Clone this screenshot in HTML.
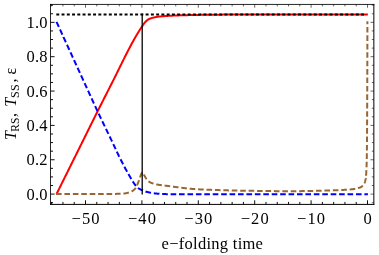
<!DOCTYPE html>
<html><head><meta charset="utf-8">
<style>
html,body{margin:0;padding:0;background:#fff;}
svg{display:block;will-change:transform;}
text{font-family:"Liberation Serif",serif;font-size:16px;fill:#000;}
</style></head><body>
<svg width="379" height="255" viewBox="0 0 379 255">
<rect width="379" height="255" fill="#fff"/>
<g fill="none" stroke-linejoin="round">
<path d="M56.50,194.10 L56.76,193.58 L57.02,193.05 L57.28,192.53 L57.54,192.01 L57.80,191.48 L58.06,190.96 L58.32,190.44 L58.58,189.91 L58.84,189.39 L59.10,188.87 L59.36,188.34 L59.62,187.82 L59.88,187.30 L60.14,186.77 L60.40,186.25 L60.66,185.73 L60.92,185.20 L61.17,184.68 L61.43,184.15 L61.69,183.63 L61.95,183.11 L62.21,182.58 L62.47,182.06 L62.73,181.54 L62.99,181.01 L63.25,180.49 L63.51,179.97 L63.77,179.44 L64.03,178.92 L64.29,178.40 L64.55,177.87 L64.81,177.35 L65.07,176.83 L65.33,176.30 L65.59,175.78 L65.85,175.26 L66.11,174.73 L66.37,174.21 L66.63,173.69 L66.89,173.16 L67.15,172.64 L67.41,172.12 L67.67,171.59 L67.93,171.07 L68.19,170.55 L68.45,170.02 L68.71,169.50 L68.97,168.98 L69.23,168.45 L69.49,167.93 L69.75,167.41 L70.01,166.88 L70.26,166.36 L70.52,165.84 L70.78,165.31 L71.04,164.79 L71.30,164.27 L71.56,163.74 L71.82,163.22 L72.08,162.70 L72.34,162.17 L72.60,161.65 L72.86,161.13 L73.12,160.61 L73.38,160.08 L73.64,159.56 L73.90,159.04 L74.16,158.51 L74.42,157.99 L74.68,157.47 L74.94,156.94 L75.20,156.42 L75.46,155.90 L75.72,155.37 L75.98,154.85 L76.24,154.33 L76.50,153.80 L76.76,153.28 L77.02,152.76 L77.28,152.23 L77.54,151.71 L77.80,151.19 L78.06,150.66 L78.32,150.14 L78.58,149.62 L78.84,149.09 L79.10,148.57 L79.36,148.05 L79.61,147.52 L79.87,147.00 L80.13,146.48 L80.39,145.95 L80.65,145.43 L80.91,144.91 L81.17,144.38 L81.43,143.86 L81.69,143.34 L81.95,142.82 L82.21,142.29 L82.47,141.77 L82.73,141.25 L82.99,140.72 L83.25,140.20 L83.51,139.68 L83.77,139.15 L84.03,138.63 L84.29,138.11 L84.55,137.58 L84.81,137.06 L85.07,136.53 L85.33,136.01 L85.59,135.48 L85.85,134.96 L86.11,134.44 L86.37,133.91 L86.63,133.39 L86.89,132.86 L87.15,132.34 L87.41,131.81 L87.67,131.29 L87.93,130.76 L88.19,130.24 L88.45,129.71 L88.70,129.19 L88.96,128.66 L89.22,128.14 L89.48,127.62 L89.74,127.09 L90.00,126.57 L90.26,126.04 L90.52,125.52 L90.78,124.99 L91.04,124.47 L91.30,123.95 L91.56,123.42 L91.82,122.90 L92.08,122.37 L92.34,121.85 L92.60,121.33 L92.86,120.80 L93.12,120.28 L93.38,119.76 L93.64,119.24 L93.90,118.71 L94.16,118.19 L94.42,117.67 L94.68,117.15 L94.94,116.63 L95.20,116.11 L95.46,115.59 L95.72,115.06 L95.98,114.54 L96.24,114.02 L96.50,113.50 L96.76,112.99 L97.02,112.47 L97.28,111.95 L97.54,111.43 L97.79,110.91 L98.05,110.39 L98.31,109.88 L98.57,109.36 L98.83,108.84 L99.09,108.33 L99.35,107.81 L99.61,107.30 L99.87,106.78 L100.13,106.27 L100.39,105.75 L100.65,105.24 L100.91,104.72 L101.17,104.21 L101.43,103.70 L101.69,103.18 L101.95,102.67 L102.21,102.16 L102.47,101.64 L102.73,101.13 L102.99,100.62 L103.25,100.11 L103.51,99.59 L103.77,99.08 L104.03,98.57 L104.29,98.06 L104.55,97.55 L104.81,97.03 L105.07,96.52 L105.33,96.01 L105.59,95.50 L105.85,94.99 L106.11,94.48 L106.37,93.97 L106.63,93.46 L106.88,92.94 L107.14,92.43 L107.40,91.92 L107.66,91.41 L107.92,90.90 L108.18,90.39 L108.44,89.88 L108.70,89.37 L108.96,88.85 L109.22,88.34 L109.48,87.83 L109.74,87.32 L110.00,86.81 L110.26,86.30 L110.52,85.78 L110.78,85.27 L111.04,84.76 L111.30,84.25 L111.56,83.73 L111.82,83.22 L112.08,82.71 L112.34,82.19 L112.60,81.68 L112.86,81.17 L113.12,80.65 L113.38,80.14 L113.64,79.62 L113.90,79.11 L114.16,78.59 L114.42,78.08 L114.68,77.56 L114.94,77.04 L115.20,76.52 L115.46,76.00 L115.72,75.48 L115.98,74.95 L116.23,74.43 L116.49,73.91 L116.75,73.38 L117.01,72.86 L117.27,72.33 L117.53,71.80 L117.79,71.28 L118.05,70.75 L118.31,70.22 L118.57,69.70 L118.83,69.17 L119.09,68.64 L119.35,68.11 L119.61,67.58 L119.87,67.06 L120.13,66.53 L120.39,66.00 L120.65,65.47 L120.91,64.94 L121.17,64.42 L121.43,63.89 L121.69,63.36 L121.95,62.83 L122.21,62.31 L122.47,61.78 L122.73,61.26 L122.99,60.73 L123.25,60.21 L123.51,59.68 L123.77,59.16 L124.03,58.64 L124.29,58.12 L124.55,57.59 L124.81,57.07 L125.07,56.56 L125.32,56.04 L125.58,55.52 L125.84,55.00 L126.10,54.49 L126.36,53.98 L126.62,53.46 L126.88,52.95 L127.14,52.44 L127.40,51.93 L127.66,51.43 L127.92,50.92 L128.18,50.42 L128.44,49.92 L128.70,49.41 L128.96,48.91 L129.22,48.42 L129.48,47.92 L129.74,47.43 L130.00,46.94 L130.26,46.44 L130.52,45.96 L130.78,45.47 L131.04,44.99 L131.30,44.50 L131.56,44.02 L131.82,43.54 L132.08,43.07 L132.34,42.59 L132.60,42.12 L132.86,41.65 L133.12,41.18 L133.38,40.71 L133.64,40.25 L133.90,39.78 L134.16,39.32 L134.41,38.86 L134.67,38.41 L134.93,37.95 L135.19,37.50 L135.45,37.05 L135.71,36.61 L135.97,36.16 L136.23,35.72 L136.49,35.28 L136.75,34.85 L137.01,34.41 L137.27,33.98 L137.53,33.55 L137.79,33.13 L138.05,32.70 L138.31,32.28 L138.57,31.86 L138.83,31.44 L139.09,31.03 L139.35,30.62 L139.61,30.21 L139.87,29.80 L140.13,29.39 L140.39,28.99 L140.65,28.59 L140.91,28.19 L141.17,27.80 L141.43,27.40 L141.69,27.01 L141.95,26.63 L142.21,26.24 L142.47,25.85 L142.73,25.46 L142.99,25.07 L143.25,24.68 L143.51,24.30 L143.76,23.93 L144.02,23.57 L144.28,23.23 L144.54,22.90 L144.80,22.60 L145.06,22.30 L145.32,22.01 L145.58,21.73 L145.84,21.45 L146.10,21.18 L146.36,20.92 L146.62,20.67 L146.88,20.43 L147.14,20.21 L147.40,20.00 L147.66,19.81 L147.92,19.65 L148.18,19.50 L148.44,19.36 L148.70,19.22 L148.96,19.09 L149.22,18.97 L149.48,18.85 L149.74,18.74 L150.00,18.64 L150.26,18.54 L150.52,18.44 L150.78,18.35 L151.04,18.26 L151.30,18.18 L151.56,18.10 L151.82,18.02 L152.08,17.95 L152.34,17.88 L152.60,17.81 L152.85,17.74 L153.11,17.67 L153.37,17.61 L153.63,17.55 L153.89,17.48 L154.15,17.42 L154.41,17.36 L154.67,17.31 L154.93,17.25 L155.19,17.20 L155.45,17.14 L155.71,17.09 L155.97,17.05 L156.23,17.00 L156.49,16.95 L156.75,16.91 L157.01,16.87 L157.27,16.83 L157.53,16.79 L157.79,16.75 L158.05,16.72 L158.31,16.69 L158.57,16.65 L158.83,16.62 L159.09,16.59 L159.35,16.57 L159.61,16.54 L159.87,16.51 L160.13,16.48 L160.39,16.46 L160.65,16.43 L160.91,16.41 L161.17,16.38 L161.43,16.36 L161.69,16.34 L161.94,16.31 L162.20,16.29 L162.46,16.27 L162.72,16.25 L162.98,16.23 L163.24,16.21 L163.50,16.19 L163.76,16.17 L164.02,16.15 L164.28,16.13 L164.54,16.11 L164.80,16.09 L165.06,16.08 L165.32,16.06 L165.58,16.04 L165.84,16.02 L166.10,16.01 L166.36,15.99 L166.62,15.97 L166.88,15.96 L167.14,15.94 L167.40,15.92 L167.66,15.91 L167.92,15.89 L168.18,15.87 L168.44,15.86 L168.70,15.84 L168.96,15.83 L169.22,15.81 L169.48,15.80 L169.74,15.78 L170.00,15.77 L170.26,15.76 L170.52,15.74 L170.78,15.73 L171.03,15.71 L171.29,15.70 L171.55,15.69 L171.81,15.67 L172.07,15.66 L172.33,15.65 L172.59,15.64 L172.85,15.62 L173.11,15.61 L173.37,15.60 L173.63,15.59 L173.89,15.58 L174.15,15.56 L174.41,15.55 L174.67,15.54 L174.93,15.53 L175.19,15.52 L175.45,15.51 L175.71,15.50 L175.97,15.49 L176.23,15.48 L176.49,15.47 L176.75,15.46 L177.01,15.45 L177.27,15.44 L177.53,15.43 L177.79,15.42 L178.05,15.41 L178.31,15.40 L178.57,15.39 L178.83,15.38 L179.09,15.37 L179.35,15.37 L179.61,15.36 L179.87,15.35 L180.13,15.34 L180.38,15.33 L180.64,15.32 L180.90,15.32 L181.16,15.31 L181.42,15.30 L181.68,15.29 L181.94,15.28 L182.20,15.28 L182.46,15.27 L182.72,15.26 L182.98,15.25 L183.24,15.25 L183.50,15.24 L183.76,15.23 L184.02,15.23 L184.28,15.22 L184.54,15.21 L184.80,15.21 L185.06,15.20 L185.32,15.19 L185.58,15.19 L185.84,15.18 L186.10,15.17 L186.36,15.17 L186.62,15.16 L186.88,15.15 L187.14,15.15 L187.40,15.14 L187.66,15.13 L187.92,15.13 L188.18,15.12 L188.44,15.11 L188.70,15.11 L188.96,15.10 L189.22,15.10 L189.47,15.09 L189.73,15.08 L189.99,15.08 L190.25,15.07 L190.51,15.06 L190.77,15.06 L191.03,15.05 L191.29,15.05 L191.55,15.04 L191.81,15.03 L192.07,15.03 L192.33,15.02 L192.59,15.02 L192.85,15.01 L193.11,15.01 L193.37,15.00 L193.63,14.99 L193.89,14.99 L194.15,14.98 L194.41,14.98 L194.67,14.97 L194.93,14.97 L195.19,14.96 L195.45,14.96 L195.71,14.95 L195.97,14.95 L196.23,14.94 L196.49,14.94 L196.75,14.93 L197.01,14.93 L197.27,14.92 L197.53,14.92 L197.79,14.91 L198.05,14.91 L198.31,14.90 L198.56,14.90 L198.82,14.89 L199.08,14.89 L199.34,14.88 L199.60,14.88 L199.86,14.87 L200.12,14.87 L200.38,14.86 L200.64,14.86 L200.90,14.86 L201.16,14.85 L201.42,14.85 L201.68,14.84 L201.94,14.84 L202.20,14.84 L202.46,14.83 L202.72,14.83 L202.98,14.83 L203.24,14.82 L203.50,14.82 L203.76,14.82 L204.02,14.81 L204.28,14.81 L204.54,14.81 L204.80,14.80 L205.06,14.80 L205.32,14.80 L205.58,14.79 L205.84,14.79 L206.10,14.79 L206.36,14.78 L206.62,14.78 L206.88,14.78 L207.14,14.78 L207.40,14.77 L207.65,14.77 L207.91,14.77 L208.17,14.76 L208.43,14.76 L208.69,14.76 L208.95,14.75 L209.21,14.75 L209.47,14.75 L209.73,14.75 L209.99,14.74 L210.25,14.74 L210.51,14.74 L210.77,14.73 L211.03,14.73 L211.29,14.73 L211.55,14.72 L211.81,14.72 L212.07,14.72 L212.33,14.72 L212.59,14.71 L212.85,14.71 L213.11,14.71 L213.37,14.70 L213.63,14.70 L213.89,14.70 L214.15,14.70 L214.41,14.69 L214.67,14.69 L214.93,14.69 L215.19,14.69 L215.45,14.68 L215.71,14.68 L215.97,14.68 L216.23,14.68 L216.49,14.67 L216.75,14.67 L217.00,14.67 L217.26,14.67 L217.52,14.66 L217.78,14.66 L218.04,14.66 L218.30,14.66 L218.56,14.65 L218.82,14.65 L219.08,14.65 L219.34,14.65 L219.60,14.65 L219.86,14.64 L220.12,14.64 L220.38,14.64 L220.64,14.64 L220.90,14.64 L221.16,14.63 L221.42,14.63 L221.68,14.63 L221.94,14.63 L222.20,14.63 L222.46,14.63 L222.72,14.62 L222.98,14.62 L223.24,14.62 L223.50,14.62 L223.76,14.62 L224.02,14.62 L224.28,14.61 L224.54,14.61 L224.80,14.61 L225.06,14.61 L225.32,14.61 L225.58,14.61 L225.84,14.61 L226.09,14.61 L226.35,14.61 L226.61,14.61 L226.87,14.60 L227.13,14.60 L227.39,14.60 L227.65,14.60 L227.91,14.60 L228.17,14.60 L228.43,14.60 L228.69,14.60 L228.95,14.60 L229.21,14.60 L229.47,14.60 L229.73,14.60 L229.99,14.60 L230.25,14.60 L230.51,14.60 L230.77,14.60 L231.03,14.60 L231.29,14.60 L231.55,14.60 L231.81,14.60 L232.07,14.60 L232.33,14.60 L232.59,14.60 L232.85,14.60 L233.11,14.60 L233.37,14.60 L233.63,14.60 L233.89,14.60 L234.15,14.60 L234.41,14.60 L234.67,14.60 L234.93,14.60 L235.18,14.60 L235.44,14.60 L235.70,14.60 L235.96,14.60 L236.22,14.60 L236.48,14.60 L236.74,14.60 L237.00,14.60 L237.26,14.60 L237.52,14.60 L237.78,14.60 L238.04,14.60 L238.30,14.60 L238.56,14.60 L238.82,14.60 L239.08,14.60 L239.34,14.60 L239.60,14.60 L239.86,14.60 L240.12,14.60 L240.38,14.60 L240.64,14.60 L240.90,14.60 L241.16,14.60 L241.42,14.60 L241.68,14.60 L241.94,14.60 L242.20,14.60 L242.46,14.60 L242.72,14.60 L242.98,14.60 L243.24,14.60 L243.50,14.60 L243.76,14.60 L244.02,14.60 L244.27,14.60 L244.53,14.60 L244.79,14.60 L245.05,14.60 L245.31,14.60 L245.57,14.60 L245.83,14.60 L246.09,14.60 L246.35,14.60 L246.61,14.60 L246.87,14.60 L247.13,14.60 L247.39,14.60 L247.65,14.60 L247.91,14.60 L248.17,14.60 L248.43,14.60 L248.69,14.60 L248.95,14.60 L249.21,14.60 L249.47,14.60 L249.73,14.60 L249.99,14.60 L250.25,14.60 L250.51,14.60 L250.77,14.60 L251.03,14.60 L251.29,14.60 L251.55,14.60 L251.81,14.60 L252.07,14.60 L252.33,14.60 L252.59,14.60 L252.85,14.60 L253.11,14.60 L253.37,14.60 L253.62,14.60 L253.88,14.60 L254.14,14.60 L254.40,14.60 L254.66,14.60 L254.92,14.60 L255.18,14.60 L255.44,14.60 L255.70,14.60 L255.96,14.60 L256.22,14.60 L256.48,14.60 L256.74,14.60 L257.00,14.60 L257.26,14.60 L257.52,14.60 L257.78,14.60 L258.04,14.60 L258.30,14.60 L258.56,14.60 L258.82,14.60 L259.08,14.60 L259.34,14.60 L259.60,14.60 L259.86,14.60 L260.12,14.60 L260.38,14.60 L260.64,14.60 L260.90,14.60 L261.16,14.60 L261.42,14.60 L261.68,14.60 L261.94,14.60 L262.20,14.60 L262.46,14.60 L262.71,14.60 L262.97,14.60 L263.23,14.60 L263.49,14.60 L263.75,14.60 L264.01,14.60 L264.27,14.60 L264.53,14.60 L264.79,14.60 L265.05,14.60 L265.31,14.60 L265.57,14.60 L265.83,14.60 L266.09,14.60 L266.35,14.60 L266.61,14.60 L266.87,14.60 L267.13,14.60 L267.39,14.60 L267.65,14.60 L267.91,14.60 L268.17,14.60 L268.43,14.60 L268.69,14.60 L268.95,14.60 L269.21,14.60 L269.47,14.60 L269.73,14.60 L269.99,14.60 L270.25,14.60 L270.51,14.60 L270.77,14.60 L271.03,14.60 L271.29,14.60 L271.55,14.60 L271.80,14.60 L272.06,14.60 L272.32,14.60 L272.58,14.60 L272.84,14.60 L273.10,14.60 L273.36,14.60 L273.62,14.60 L273.88,14.60 L274.14,14.60 L274.40,14.60 L274.66,14.60 L274.92,14.60 L275.18,14.60 L275.44,14.60 L275.70,14.60 L275.96,14.60 L276.22,14.60 L276.48,14.60 L276.74,14.60 L277.00,14.60 L277.26,14.60 L277.52,14.60 L277.78,14.60 L278.04,14.60 L278.30,14.60 L278.56,14.60 L278.82,14.60 L279.08,14.60 L279.34,14.60 L279.60,14.60 L279.86,14.60 L280.12,14.60 L280.38,14.60 L280.64,14.60 L280.89,14.60 L281.15,14.60 L281.41,14.60 L281.67,14.60 L281.93,14.60 L282.19,14.60 L282.45,14.60 L282.71,14.60 L282.97,14.60 L283.23,14.60 L283.49,14.60 L283.75,14.60 L284.01,14.60 L284.27,14.60 L284.53,14.60 L284.79,14.60 L285.05,14.60 L285.31,14.60 L285.57,14.60 L285.83,14.60 L286.09,14.60 L286.35,14.60 L286.61,14.60 L286.87,14.60 L287.13,14.60 L287.39,14.60 L287.65,14.60 L287.91,14.60 L288.17,14.60 L288.43,14.60 L288.69,14.60 L288.95,14.60 L289.21,14.60 L289.47,14.60 L289.73,14.60 L289.99,14.60 L290.24,14.60 L290.50,14.60 L290.76,14.60 L291.02,14.60 L291.28,14.60 L291.54,14.60 L291.80,14.60 L292.06,14.60 L292.32,14.60 L292.58,14.60 L292.84,14.60 L293.10,14.60 L293.36,14.60 L293.62,14.60 L293.88,14.60 L294.14,14.60 L294.40,14.60 L294.66,14.60 L294.92,14.60 L295.18,14.60 L295.44,14.60 L295.70,14.60 L295.96,14.60 L296.22,14.60 L296.48,14.60 L296.74,14.60 L297.00,14.60 L297.26,14.60 L297.52,14.60 L297.78,14.60 L298.04,14.60 L298.30,14.60 L298.56,14.60 L298.82,14.60 L299.08,14.60 L299.33,14.60 L299.59,14.60 L299.85,14.60 L300.11,14.60 L300.37,14.60 L300.63,14.60 L300.89,14.60 L301.15,14.60 L301.41,14.60 L301.67,14.60 L301.93,14.60 L302.19,14.60 L302.45,14.60 L302.71,14.60 L302.97,14.60 L303.23,14.60 L303.49,14.60 L303.75,14.60 L304.01,14.60 L304.27,14.60 L304.53,14.60 L304.79,14.60 L305.05,14.60 L305.31,14.60 L305.57,14.60 L305.83,14.60 L306.09,14.60 L306.35,14.60 L306.61,14.60 L306.87,14.60 L307.13,14.60 L307.39,14.60 L307.65,14.60 L307.91,14.60 L308.17,14.60 L308.42,14.60 L308.68,14.60 L308.94,14.60 L309.20,14.60 L309.46,14.60 L309.72,14.60 L309.98,14.60 L310.24,14.60 L310.50,14.60 L310.76,14.60 L311.02,14.60 L311.28,14.60 L311.54,14.60 L311.80,14.60 L312.06,14.60 L312.32,14.60 L312.58,14.60 L312.84,14.60 L313.10,14.60 L313.36,14.60 L313.62,14.60 L313.88,14.60 L314.14,14.60 L314.40,14.60 L314.66,14.60 L314.92,14.60 L315.18,14.60 L315.44,14.60 L315.70,14.60 L315.96,14.60 L316.22,14.60 L316.48,14.60 L316.74,14.60 L317.00,14.60 L317.26,14.60 L317.52,14.60 L317.77,14.60 L318.03,14.60 L318.29,14.60 L318.55,14.60 L318.81,14.60 L319.07,14.60 L319.33,14.60 L319.59,14.60 L319.85,14.60 L320.11,14.60 L320.37,14.60 L320.63,14.60 L320.89,14.60 L321.15,14.60 L321.41,14.60 L321.67,14.60 L321.93,14.60 L322.19,14.60 L322.45,14.60 L322.71,14.60 L322.97,14.60 L323.23,14.60 L323.49,14.60 L323.75,14.60 L324.01,14.60 L324.27,14.60 L324.53,14.60 L324.79,14.60 L325.05,14.60 L325.31,14.60 L325.57,14.60 L325.83,14.60 L326.09,14.60 L326.35,14.60 L326.61,14.60 L326.86,14.60 L327.12,14.60 L327.38,14.60 L327.64,14.60 L327.90,14.60 L328.16,14.60 L328.42,14.60 L328.68,14.60 L328.94,14.60 L329.20,14.60 L329.46,14.60 L329.72,14.60 L329.98,14.60 L330.24,14.60 L330.50,14.60 L330.76,14.60 L331.02,14.60 L331.28,14.60 L331.54,14.60 L331.80,14.60 L332.06,14.60 L332.32,14.60 L332.58,14.60 L332.84,14.60 L333.10,14.60 L333.36,14.60 L333.62,14.60 L333.88,14.60 L334.14,14.60 L334.40,14.60 L334.66,14.60 L334.92,14.60 L335.18,14.60 L335.44,14.60 L335.70,14.60 L335.95,14.60 L336.21,14.60 L336.47,14.60 L336.73,14.60 L336.99,14.60 L337.25,14.60 L337.51,14.60 L337.77,14.60 L338.03,14.60 L338.29,14.60 L338.55,14.60 L338.81,14.60 L339.07,14.60 L339.33,14.60 L339.59,14.60 L339.85,14.60 L340.11,14.60 L340.37,14.60 L340.63,14.60 L340.89,14.60 L341.15,14.60 L341.41,14.60 L341.67,14.60 L341.93,14.60 L342.19,14.60 L342.45,14.60 L342.71,14.60 L342.97,14.60 L343.23,14.60 L343.49,14.60 L343.75,14.60 L344.01,14.60 L344.27,14.60 L344.53,14.60 L344.79,14.60 L345.04,14.60 L345.30,14.60 L345.56,14.60 L345.82,14.60 L346.08,14.60 L346.34,14.60 L346.60,14.60 L346.86,14.60 L347.12,14.60 L347.38,14.60 L347.64,14.60 L347.90,14.60 L348.16,14.60 L348.42,14.60 L348.68,14.60 L348.94,14.60 L349.20,14.60 L349.46,14.60 L349.72,14.60 L349.98,14.60 L350.24,14.60 L350.50,14.60 L350.76,14.60 L351.02,14.60 L351.28,14.60 L351.54,14.60 L351.80,14.60 L352.06,14.60 L352.32,14.60 L352.58,14.60 L352.84,14.60 L353.10,14.60 L353.36,14.60 L353.62,14.60 L353.88,14.60 L354.14,14.60 L354.39,14.60 L354.65,14.60 L354.91,14.60 L355.17,14.60 L355.43,14.60 L355.69,14.60 L355.95,14.60 L356.21,14.60 L356.47,14.60 L356.73,14.60 L356.99,14.60 L357.25,14.60 L357.51,14.60 L357.77,14.60 L358.03,14.60 L358.29,14.60 L358.55,14.60 L358.81,14.60 L359.07,14.60 L359.33,14.60 L359.59,14.60 L359.85,14.60 L360.11,14.60 L360.37,14.60 L360.63,14.60 L360.89,14.60 L361.15,14.60 L361.41,14.60 L361.67,14.60 L361.93,14.60 L362.19,14.60 L362.45,14.60 L362.71,14.60 L362.97,14.60 L363.23,14.60 L363.48,14.60 L363.74,14.60 L364.00,14.60 L364.26,14.60 L364.52,14.60 L364.78,14.60 L365.04,14.60 L365.30,14.60 L365.56,14.60 L365.82,14.60 L366.08,14.60 L366.34,14.60 L366.60,14.60 L366.86,14.60 L367.12,14.60 L367.38,14.60 L367.64,14.60 L367.90,14.60" stroke="#ff0000" stroke-width="2"/>
<path d="M56.50,21.80 L56.76,22.37 L57.02,22.94 L57.28,23.50 L57.54,24.07 L57.80,24.64 L58.06,25.21 L58.32,25.78 L58.58,26.34 L58.84,26.91 M60.00,29.46 L60.14,29.75 L60.40,30.32 L60.66,30.89 L60.92,31.45 L61.17,32.02 L61.43,32.59 L61.69,33.16 L61.95,33.72 L62.21,34.29 L62.34,34.57 M63.51,37.12 L63.51,37.13 L63.77,37.70 L64.03,38.26 L64.29,38.83 L64.55,39.40 L64.81,39.97 L65.07,40.53 L65.33,41.10 L65.59,41.67 L65.85,42.23 M67.02,44.78 L67.15,45.07 L67.41,45.64 L67.67,46.20 L67.93,46.77 L68.19,47.34 L68.45,47.91 L68.71,48.47 L68.97,49.04 L69.23,49.61 L69.36,49.89 M70.53,52.44 L70.78,53.01 L71.04,53.57 L71.30,54.14 L71.56,54.71 L71.82,55.27 L72.08,55.84 L72.34,56.41 L72.60,56.97 L72.86,57.54 L72.87,57.55 M74.04,60.10 L74.16,60.37 L74.42,60.94 L74.68,61.51 L74.94,62.07 L75.20,62.64 L75.46,63.21 L75.72,63.77 L75.98,64.34 L76.24,64.91 L76.38,65.21 M77.55,67.76 L77.80,68.30 L78.06,68.87 L78.32,69.44 L78.58,70.00 L78.84,70.57 L79.10,71.14 L79.36,71.70 L79.61,72.27 L79.87,72.83 L79.89,72.87 M81.06,75.42 L81.17,75.66 L81.43,76.23 L81.69,76.80 L81.95,77.36 L82.21,77.93 L82.47,78.49 L82.73,79.06 L82.99,79.63 L83.25,80.19 L83.40,80.53 M84.57,83.08 L84.81,83.59 L85.07,84.16 L85.33,84.73 L85.59,85.30 L85.85,85.87 L86.11,86.44 L86.37,87.01 L86.63,87.58 L86.89,88.14 L86.91,88.19 M88.07,90.74 L88.19,90.99 L88.45,91.56 L88.70,92.13 L88.96,92.70 L89.22,93.27 L89.48,93.84 L89.74,94.41 L90.00,94.98 L90.26,95.54 L90.40,95.85 M91.57,98.40 L91.82,98.95 L92.08,99.51 L92.34,100.08 L92.60,100.65 L92.86,101.21 L93.12,101.78 L93.38,102.34 L93.64,102.90 L93.90,103.47 L93.92,103.51 M95.10,106.05 L95.20,106.27 L95.46,106.83 L95.72,107.39 L95.98,107.95 L96.24,108.50 L96.50,109.06 L96.76,109.61 L97.02,110.17 L97.28,110.72 L97.48,111.15 M98.67,113.68 L98.83,114.02 L99.09,114.57 L99.35,115.12 L99.61,115.66 L99.87,116.21 L100.13,116.75 L100.39,117.30 L100.65,117.84 L100.91,118.38 L101.09,118.76 M102.31,121.28 L102.47,121.62 L102.73,122.16 L102.99,122.70 L103.25,123.24 L103.51,123.77 L103.77,124.31 L104.03,124.85 L104.29,125.39 L104.55,125.92 L104.75,126.34 M105.98,128.87 L106.11,129.14 L106.37,129.67 L106.63,130.21 L106.88,130.75 L107.14,131.28 L107.40,131.82 L107.66,132.36 L107.92,132.89 L108.18,133.43 L108.42,133.93 M109.64,136.45 L109.74,136.66 L110.00,137.20 L110.26,137.74 L110.52,138.28 L110.78,138.82 L111.04,139.36 L111.30,139.90 L111.56,140.44 L111.82,140.99 L112.07,141.52 M113.27,144.06 L113.38,144.29 L113.64,144.84 L113.90,145.40 L114.16,145.95 L114.42,146.51 L114.68,147.06 L114.94,147.62 L115.20,148.17 L115.46,148.73 L115.65,149.15 M116.85,151.69 L117.01,152.04 L117.27,152.59 L117.53,153.13 L117.79,153.68 L118.05,154.22 L118.31,154.76 L118.57,155.30 L118.83,155.83 L119.09,156.37 L119.28,156.75 M120.53,159.26 L120.65,159.50 L120.91,160.02 L121.17,160.53 L121.43,161.03 L121.69,161.54 L121.95,162.04 L122.21,162.55 L122.47,163.05 L122.73,163.55 L122.99,164.05 L123.10,164.26 M124.41,166.74 L124.55,166.99 L124.81,167.48 L125.07,167.96 L125.32,168.44 L125.58,168.92 L125.84,169.40 L126.10,169.87 L126.36,170.35 L126.62,170.82 L126.88,171.28 L127.10,171.68 M128.48,174.12 L128.70,174.50 L128.96,174.95 L129.22,175.41 L129.48,175.86 L129.74,176.32 L130.00,176.77 L130.26,177.22 L130.52,177.67 L130.78,178.12 L131.04,178.57 L131.29,178.99 M132.74,181.38 L132.86,181.56 L133.12,181.97 L133.38,182.36 L133.64,182.75 L133.90,183.13 L134.16,183.50 L134.41,183.86 L134.67,184.22 L134.93,184.58 L135.19,184.94 L135.45,185.30 L135.71,185.65 L135.97,185.98 M137.96,187.94 L138.05,188.01 L138.31,188.19 L138.57,188.36 L138.83,188.52 L139.09,188.68 L139.35,188.83 L139.61,188.98 L139.87,189.12 L140.13,189.25 L140.39,189.38 L140.65,189.51 L140.91,189.63 L141.17,189.75 L141.43,189.86 L141.69,189.98 L141.95,190.09 L142.21,190.20 L142.47,190.31 L142.73,190.42 L142.94,190.51 M145.57,191.49 L145.58,191.50 L145.84,191.58 L146.10,191.66 L146.36,191.74 L146.62,191.82 L146.88,191.89 L147.14,191.96 L147.40,192.03 L147.66,192.09 L147.92,192.15 L148.18,192.21 L148.44,192.27 L148.70,192.33 L148.96,192.39 L149.22,192.45 L149.48,192.50 L149.74,192.56 L150.00,192.61 L150.26,192.67 L150.52,192.72 L150.78,192.77 L151.03,192.82 M153.80,193.28 L153.89,193.29 L154.15,193.32 L154.41,193.36 L154.67,193.39 L154.93,193.42 L155.19,193.45 L155.45,193.48 L155.71,193.50 L155.97,193.53 L156.23,193.55 L156.49,193.57 L156.75,193.60 L157.01,193.62 L157.27,193.64 L157.53,193.67 L157.79,193.69 L158.05,193.71 L158.31,193.73 L158.57,193.75 L158.83,193.77 L159.09,193.79 L159.35,193.81 L159.39,193.82 M162.19,193.99 L162.20,193.99 L162.46,194.01 L162.72,194.02 L162.98,194.03 L163.24,194.04 L163.50,194.05 L163.76,194.06 L164.02,194.07 L164.28,194.08 L164.54,194.09 L164.80,194.10 L165.06,194.10 L165.32,194.11 L165.58,194.11 L165.84,194.12 L166.10,194.13 L166.36,194.13 L166.62,194.14 L166.88,194.14 L167.14,194.15 L167.40,194.15 L167.66,194.16 L167.80,194.16 M170.61,194.21 L170.78,194.22 L171.03,194.22 L171.29,194.23 L171.55,194.23 L171.81,194.23 L172.07,194.24 L172.33,194.24 L172.59,194.24 L172.85,194.25 L173.11,194.25 L173.37,194.26 L173.63,194.26 L173.89,194.26 L174.15,194.26 L174.41,194.27 L174.67,194.27 L174.93,194.27 L175.19,194.28 L175.45,194.28 L175.71,194.28 L175.97,194.28 L176.23,194.28 M179.03,194.30 L179.09,194.30 L179.35,194.30 L179.61,194.30 L179.87,194.30 L180.13,194.30 L180.38,194.30 L180.64,194.30 L180.90,194.30 L181.16,194.30 L181.42,194.30 L181.68,194.30 L181.94,194.30 L182.20,194.30 L182.46,194.30 L182.72,194.30 L182.98,194.30 L183.24,194.30 L183.50,194.30 L183.76,194.30 L184.02,194.30 L184.28,194.30 L184.54,194.30 L184.65,194.30 M187.46,194.30 L187.66,194.30 L187.92,194.30 L188.18,194.30 L188.44,194.30 L188.70,194.30 L188.96,194.30 L189.22,194.30 L189.47,194.30 L189.73,194.30 L189.99,194.30 L190.25,194.30 L190.51,194.30 L190.77,194.30 L191.03,194.30 L191.29,194.30 L191.55,194.30 L191.81,194.30 L192.07,194.30 L192.33,194.30 L192.59,194.30 L192.85,194.30 L193.08,194.30 M195.88,194.30 L195.97,194.30 L196.23,194.30 L196.49,194.30 L196.75,194.30 L197.01,194.30 L197.27,194.30 L197.53,194.30 L197.79,194.30 L198.05,194.30 L198.31,194.30 L198.56,194.30 L198.82,194.30 L199.08,194.30 L199.34,194.30 L199.60,194.30 L199.86,194.30 L200.12,194.30 L200.38,194.30 L200.64,194.30 L200.90,194.30 L201.16,194.30 L201.42,194.30 L201.50,194.30 M204.31,194.30 L204.54,194.30 L204.80,194.30 L205.06,194.30 L205.32,194.30 L205.58,194.30 L205.84,194.30 L206.10,194.30 L206.36,194.30 L206.62,194.30 L206.88,194.30 L207.14,194.30 L207.40,194.30 L207.65,194.30 L207.91,194.30 L208.17,194.30 L208.43,194.30 L208.69,194.30 L208.95,194.30 L209.21,194.30 L209.47,194.30 L209.73,194.30 L209.93,194.30 M212.73,194.30 L212.85,194.30 L213.11,194.30 L213.37,194.30 L213.63,194.30 L213.89,194.30 L214.15,194.30 L214.41,194.30 L214.67,194.30 L214.93,194.30 L215.19,194.30 L215.45,194.30 L215.71,194.30 L215.97,194.30 L216.23,194.30 L216.49,194.30 L216.75,194.30 L217.00,194.30 L217.26,194.30 L217.52,194.30 L217.78,194.30 L218.04,194.30 L218.30,194.30 L218.35,194.30 M221.16,194.30 L221.16,194.30 L221.42,194.30 L221.68,194.30 L221.94,194.30 L222.20,194.30 L222.46,194.30 L222.72,194.30 L222.98,194.30 L223.24,194.30 L223.50,194.30 L223.76,194.30 L224.02,194.30 L224.28,194.30 L224.54,194.30 L224.80,194.30 L225.06,194.30 L225.32,194.30 L225.58,194.30 L225.84,194.30 L226.09,194.30 L226.35,194.30 L226.61,194.30 L226.78,194.30 M229.58,194.30 L229.73,194.30 L229.99,194.30 L230.25,194.30 L230.51,194.30 L230.77,194.30 L231.03,194.30 L231.29,194.30 L231.55,194.30 L231.81,194.30 L232.07,194.30 L232.33,194.30 L232.59,194.30 L232.85,194.30 L233.11,194.30 L233.37,194.30 L233.63,194.30 L233.89,194.30 L234.15,194.30 L234.41,194.30 L234.67,194.30 L234.93,194.30 L235.18,194.30 L235.20,194.30 M238.01,194.30 L238.04,194.30 L238.30,194.30 L238.56,194.30 L238.82,194.30 L239.08,194.30 L239.34,194.30 L239.60,194.30 L239.86,194.30 L240.12,194.30 L240.38,194.30 L240.64,194.30 L240.90,194.30 L241.16,194.30 L241.42,194.30 L241.68,194.30 L241.94,194.30 L242.20,194.30 L242.46,194.30 L242.72,194.30 L242.98,194.30 L243.24,194.30 L243.50,194.30 L243.63,194.30 M246.43,194.30 L246.61,194.30 L246.87,194.30 L247.13,194.30 L247.39,194.30 L247.65,194.30 L247.91,194.30 L248.17,194.30 L248.43,194.30 L248.69,194.30 L248.95,194.30 L249.21,194.30 L249.47,194.30 L249.73,194.30 L249.99,194.30 L250.25,194.30 L250.51,194.30 L250.77,194.30 L251.03,194.30 L251.29,194.30 L251.55,194.30 L251.81,194.30 L252.05,194.30 M254.86,194.30 L254.92,194.30 L255.18,194.30 L255.44,194.30 L255.70,194.30 L255.96,194.30 L256.22,194.30 L256.48,194.30 L256.74,194.30 L257.00,194.30 L257.26,194.30 L257.52,194.30 L257.78,194.30 L258.04,194.30 L258.30,194.30 L258.56,194.30 L258.82,194.30 L259.08,194.30 L259.34,194.30 L259.60,194.30 L259.86,194.30 L260.12,194.30 L260.38,194.30 L260.48,194.30 M263.28,194.30 L263.49,194.30 L263.75,194.30 L264.01,194.30 L264.27,194.30 L264.53,194.30 L264.79,194.30 L265.05,194.30 L265.31,194.30 L265.57,194.30 L265.83,194.30 L266.09,194.30 L266.35,194.30 L266.61,194.30 L266.87,194.30 L267.13,194.30 L267.39,194.30 L267.65,194.30 L267.91,194.30 L268.17,194.30 L268.43,194.30 L268.69,194.30 L268.90,194.30 M271.71,194.30 L271.80,194.30 L272.06,194.30 L272.32,194.30 L272.58,194.30 L272.84,194.30 L273.10,194.30 L273.36,194.30 L273.62,194.30 L273.88,194.30 L274.14,194.30 L274.40,194.30 L274.66,194.30 L274.92,194.30 L275.18,194.30 L275.44,194.30 L275.70,194.30 L275.96,194.30 L276.22,194.30 L276.48,194.30 L276.74,194.30 L277.00,194.30 L277.26,194.30 L277.33,194.30 M280.13,194.30 L280.38,194.30 L280.64,194.30 L280.89,194.30 L281.15,194.30 L281.41,194.30 L281.67,194.30 L281.93,194.30 L282.19,194.30 L282.45,194.30 L282.71,194.30 L282.97,194.30 L283.23,194.30 L283.49,194.30 L283.75,194.30 L284.01,194.30 L284.27,194.30 L284.53,194.30 L284.79,194.30 L285.05,194.30 L285.31,194.30 L285.57,194.30 L285.75,194.30 M288.56,194.30 L288.69,194.30 L288.95,194.30 L289.21,194.30 L289.47,194.30 L289.73,194.30 L289.99,194.30 L290.24,194.30 L290.50,194.30 L290.76,194.30 L291.02,194.30 L291.28,194.30 L291.54,194.30 L291.80,194.30 L292.06,194.30 L292.32,194.30 L292.58,194.30 L292.84,194.30 L293.10,194.30 L293.36,194.30 L293.62,194.30 L293.88,194.30 L294.14,194.30 L294.18,194.30 M296.98,194.30 L297.00,194.30 L297.26,194.30 L297.52,194.30 L297.78,194.30 L298.04,194.30 L298.30,194.30 L298.56,194.30 L298.82,194.30 L299.08,194.30 L299.33,194.30 L299.59,194.30 L299.85,194.30 L300.11,194.30 L300.37,194.30 L300.63,194.30 L300.89,194.30 L301.15,194.30 L301.41,194.30 L301.67,194.30 L301.93,194.30 L302.19,194.30 L302.45,194.30 L302.60,194.30 M305.41,194.30 L305.57,194.30 L305.83,194.30 L306.09,194.30 L306.35,194.30 L306.61,194.30 L306.87,194.30 L307.13,194.30 L307.39,194.30 L307.65,194.30 L307.91,194.30 L308.17,194.30 L308.42,194.30 L308.68,194.30 L308.94,194.30 L309.20,194.30 L309.46,194.30 L309.72,194.30 L309.98,194.30 L310.24,194.30 L310.50,194.30 L310.76,194.30 L311.02,194.30 L311.03,194.30 M313.83,194.30 L313.88,194.30 L314.14,194.30 L314.40,194.30 L314.66,194.30 L314.92,194.30 L315.18,194.30 L315.44,194.30 L315.70,194.30 L315.96,194.30 L316.22,194.30 L316.48,194.30 L316.74,194.30 L317.00,194.30 L317.26,194.30 L317.52,194.30 L317.77,194.30 L318.03,194.30 L318.29,194.30 L318.55,194.30 L318.81,194.30 L319.07,194.30 L319.33,194.30 L319.45,194.30 M322.26,194.30 L322.45,194.30 L322.71,194.30 L322.97,194.30 L323.23,194.30 L323.49,194.30 L323.75,194.30 L324.01,194.30 L324.27,194.30 L324.53,194.30 L324.79,194.30 L325.05,194.30 L325.31,194.30 L325.57,194.30 L325.83,194.30 L326.09,194.30 L326.35,194.30 L326.61,194.30 L326.86,194.30 L327.12,194.30 L327.38,194.30 L327.64,194.30 L327.88,194.30 M330.68,194.30 L330.76,194.30 L331.02,194.30 L331.28,194.30 L331.54,194.30 L331.80,194.30 L332.06,194.30 L332.32,194.30 L332.58,194.30 L332.84,194.30 L333.10,194.30 L333.36,194.30 L333.62,194.30 L333.88,194.30 L334.14,194.30 L334.40,194.30 L334.66,194.30 L334.92,194.30 L335.18,194.30 L335.44,194.30 L335.70,194.30 L335.95,194.30 L336.21,194.30 L336.30,194.30 M339.11,194.30 L339.33,194.30 L339.59,194.30 L339.85,194.30 L340.11,194.30 L340.37,194.30 L340.63,194.30 L340.89,194.30 L341.15,194.30 L341.41,194.30 L341.67,194.30 L341.93,194.30 L342.19,194.30 L342.45,194.30 L342.71,194.30 L342.97,194.30 L343.23,194.30 L343.49,194.30 L343.75,194.30 L344.01,194.30 L344.27,194.30 L344.53,194.30 L344.73,194.30 M347.53,194.30 L347.64,194.30 L347.90,194.30 L348.16,194.30 L348.42,194.30 L348.68,194.30 L348.94,194.30 L349.20,194.30 L349.46,194.30 L349.72,194.30 L349.98,194.30 L350.24,194.30 L350.50,194.30 L350.76,194.30 L351.02,194.30 L351.28,194.30 L351.54,194.30 L351.80,194.30 L352.06,194.30 L352.32,194.30 L352.58,194.30 L352.84,194.30 L353.10,194.30 L353.15,194.30 M355.96,194.30 L356.21,194.30 L356.47,194.30 L356.73,194.30 L356.99,194.30 L357.25,194.30 L357.51,194.30 L357.77,194.30 L358.03,194.30 L358.29,194.30 L358.55,194.30 L358.81,194.30 L359.07,194.30 L359.33,194.30 L359.59,194.30 L359.85,194.30 L360.11,194.30 L360.37,194.30 L360.63,194.30 L360.89,194.30 L361.15,194.30 L361.41,194.30 L361.58,194.30 M364.38,194.30 L364.52,194.30 L364.78,194.30 L365.04,194.30 L365.30,194.30 L365.56,194.30 L365.82,194.30 L366.08,194.30 L366.34,194.30 L366.60,194.30 L366.86,194.30 L367.12,194.30 L367.38,194.30 L367.64,194.30 L367.90,194.30" stroke="#0000ff" stroke-width="2.0"/>
<path d="M56.00,194.10 L56.22,194.10 L56.43,194.10 L56.65,194.10 L56.86,194.10 L57.08,194.10 L57.30,194.10 L57.51,194.10 L57.73,194.10 L57.94,194.10 L58.16,194.10 L58.38,194.10 L58.59,194.10 L58.81,194.10 L59.02,194.10 L59.24,194.10 L59.46,194.10 L59.67,194.10 L59.89,194.10 L60.10,194.10 L60.32,194.10 L60.54,194.10 L60.75,194.10 L60.97,194.10 L61.18,194.10 L61.40,194.10 L61.62,194.10 L61.62,194.10 M64.42,194.10 L64.43,194.10 L64.64,194.10 L64.86,194.10 L65.07,194.10 L65.29,194.10 L65.51,194.10 L65.72,194.10 L65.94,194.10 L66.15,194.10 L66.37,194.10 L66.59,194.10 L66.80,194.10 L67.02,194.10 L67.23,194.10 L67.45,194.10 L67.67,194.10 L67.88,194.10 L68.10,194.10 L68.31,194.10 L68.53,194.10 L68.75,194.10 L68.96,194.10 L69.18,194.10 L69.39,194.10 L69.61,194.10 L69.83,194.09 L70.04,194.09 L70.04,194.09 M72.85,194.09 L72.85,194.09 L73.07,194.09 L73.28,194.09 L73.50,194.09 L73.72,194.09 L73.93,194.09 L74.15,194.09 L74.36,194.09 L74.58,194.09 L74.80,194.09 L75.01,194.09 L75.23,194.09 L75.44,194.09 L75.66,194.09 L75.88,194.09 L76.09,194.09 L76.31,194.09 L76.52,194.09 L76.74,194.09 L76.96,194.09 L77.17,194.09 L77.39,194.09 L77.60,194.09 L77.82,194.09 L78.04,194.09 L78.25,194.09 L78.47,194.09 L78.47,194.09 M81.27,194.08 L81.28,194.08 L81.49,194.08 L81.71,194.08 L81.92,194.08 L82.14,194.08 L82.36,194.08 L82.57,194.08 L82.79,194.08 L83.01,194.08 L83.22,194.08 L83.44,194.08 L83.65,194.08 L83.87,194.08 L84.09,194.08 L84.30,194.08 L84.52,194.08 L84.73,194.08 L84.95,194.08 L85.17,194.07 L85.38,194.07 L85.60,194.07 L85.81,194.07 L86.03,194.07 L86.25,194.07 L86.46,194.07 L86.68,194.07 L86.89,194.07 L86.89,194.07 M89.70,194.07 L89.70,194.07 L89.92,194.07 L90.13,194.06 L90.35,194.06 L90.57,194.06 L90.78,194.06 L91.00,194.06 L91.21,194.06 L91.43,194.06 L91.65,194.06 L91.86,194.06 L92.08,194.06 L92.29,194.06 L92.51,194.06 L92.73,194.06 L92.94,194.06 L93.16,194.06 L93.37,194.06 L93.59,194.06 L93.81,194.06 L94.02,194.05 L94.24,194.05 L94.46,194.05 L94.67,194.05 L94.89,194.05 L95.10,194.05 L95.32,194.05 L95.32,194.05 M98.12,194.04 L98.13,194.04 L98.34,194.04 L98.56,194.04 L98.78,194.04 L98.99,194.04 L99.21,194.04 L99.42,194.04 L99.64,194.04 L99.86,194.04 L100.07,194.04 L100.29,194.04 L100.50,194.04 L100.72,194.04 L100.94,194.03 L101.15,194.03 L101.37,194.03 L101.58,194.03 L101.80,194.03 L102.02,194.03 L102.23,194.03 L102.45,194.03 L102.66,194.03 L102.88,194.03 L103.10,194.03 L103.31,194.03 L103.53,194.03 L103.74,194.02 L103.74,194.02 M106.55,194.01 L106.55,194.01 L106.77,194.01 L106.99,194.01 L107.20,194.01 L107.42,194.01 L107.63,194.01 L107.85,194.01 L108.07,194.01 L108.28,194.01 L108.50,194.01 L108.71,194.01 L108.93,194.00 L109.15,194.00 L109.36,194.00 L109.58,194.00 L109.79,194.00 L110.01,194.00 L110.23,194.00 L110.44,194.00 L110.66,194.00 L110.87,193.99 L111.09,193.99 L111.31,193.99 L111.52,193.99 L111.74,193.99 L111.95,193.98 L112.17,193.98 M114.97,193.92 L114.98,193.92 L115.19,193.92 L115.41,193.91 L115.63,193.91 L115.84,193.90 L116.06,193.89 L116.28,193.89 L116.49,193.88 L116.71,193.87 L116.92,193.87 L117.14,193.86 L117.36,193.85 L117.57,193.84 L117.79,193.83 L118.00,193.82 L118.22,193.82 L118.44,193.81 L118.65,193.80 L118.87,193.79 L119.08,193.78 L119.30,193.77 L119.52,193.76 L119.73,193.75 L119.95,193.74 L120.16,193.73 L120.38,193.72 L120.59,193.71 M123.39,193.54 L123.40,193.54 L123.62,193.53 L123.84,193.51 L124.05,193.50 L124.27,193.48 L124.48,193.46 L124.70,193.44 L124.92,193.41 L125.13,193.38 L125.35,193.35 L125.56,193.31 L125.78,193.28 L126.00,193.24 L126.21,193.19 L126.43,193.15 L126.65,193.10 L126.86,193.05 L127.08,193.00 L127.29,192.94 L127.51,192.89 L127.73,192.83 L127.94,192.77 L128.16,192.71 L128.37,192.64 L128.59,192.58 L128.81,192.51 L128.89,192.48 M131.51,191.47 L131.61,191.42 L131.83,191.30 L132.05,191.18 L132.26,191.05 L132.48,190.91 L132.69,190.77 L132.91,190.62 L133.13,190.47 L133.34,190.30 L133.56,190.13 L133.77,189.95 L133.99,189.77 L134.21,189.57 L134.42,189.37 L134.64,189.17 L134.85,188.95 L135.07,188.72 L135.29,188.46 L135.50,188.17 L135.71,187.84 M136.98,185.34 L137.02,185.26 L137.23,184.77 L137.45,184.27 L137.66,183.77 L137.88,183.26 L138.10,182.75 L138.31,182.23 L138.53,181.68 L138.74,181.08 L138.96,180.46 L139.07,180.12 M139.95,177.46 L140.04,177.21 L140.26,176.60 L140.47,176.02 L140.69,175.49 L140.90,174.97 L141.12,174.47 L141.34,173.99 L141.55,173.52 L141.77,173.06 L141.98,172.62 L142.15,172.30 M143.67,174.46 L143.84,174.73 L144.12,175.15 L144.39,175.57 L144.66,176.00 L144.94,176.44 L145.21,176.91 L145.48,177.39 L145.76,177.88 L146.03,178.37 L146.30,178.84 L146.57,179.27 M148.47,181.30 L148.49,181.31 L148.77,181.50 L149.04,181.68 L149.31,181.85 L149.59,182.02 L149.86,182.17 L150.13,182.31 L150.41,182.45 L150.68,182.58 L150.95,182.71 L151.23,182.82 L151.50,182.94 L151.78,183.04 L152.05,183.14 L152.32,183.24 L152.60,183.33 L152.87,183.42 L153.14,183.51 L153.42,183.59 L153.56,183.63 M156.27,184.32 L156.43,184.36 L156.70,184.41 L156.97,184.47 L157.25,184.52 L157.52,184.57 L157.79,184.62 L158.07,184.67 L158.34,184.72 L158.62,184.77 L158.89,184.81 L159.16,184.86 L159.44,184.90 L159.71,184.94 L159.98,184.98 L160.26,185.02 L160.53,185.06 L160.80,185.10 L161.08,185.13 L161.35,185.17 L161.63,185.20 L161.82,185.23 M164.60,185.55 L164.63,185.56 L164.91,185.59 L165.18,185.62 L165.46,185.66 L165.73,185.69 L166.00,185.72 L166.28,185.76 L166.55,185.79 L166.82,185.83 L167.10,185.86 L167.37,185.90 L167.64,185.93 L167.92,185.97 L168.19,186.00 L168.46,186.04 L168.74,186.07 L169.01,186.11 L169.29,186.14 L169.56,186.18 L169.83,186.22 L170.11,186.25 L170.18,186.26 M172.96,186.63 L173.12,186.65 L173.39,186.69 L173.66,186.73 L173.94,186.76 L174.21,186.80 L174.48,186.84 L174.76,186.87 L175.03,186.91 L175.30,186.95 L175.58,186.98 L175.85,187.02 L176.13,187.05 L176.40,187.09 L176.67,187.13 L176.95,187.16 L177.22,187.20 L177.49,187.24 L177.77,187.27 L178.04,187.31 L178.31,187.34 L178.53,187.37 M181.31,187.73 L181.32,187.73 L181.60,187.77 L181.87,187.80 L182.14,187.84 L182.42,187.87 L182.69,187.90 L182.97,187.94 L183.24,187.97 L183.51,188.00 L183.79,188.04 L184.06,188.07 L184.33,188.10 L184.61,188.13 L184.88,188.17 L185.15,188.20 L185.43,188.23 L185.70,188.26 L185.97,188.29 L186.25,188.32 L186.52,188.35 L186.80,188.38 L186.89,188.39 M189.68,188.68 L189.81,188.69 L190.08,188.72 L190.35,188.75 L190.63,188.77 L190.90,188.80 L191.17,188.82 L191.45,188.85 L191.72,188.87 L191.99,188.89 L192.27,188.92 L192.54,188.94 L192.81,188.96 L193.09,188.98 L193.36,189.01 L193.64,189.03 L193.91,189.05 L194.18,189.07 L194.46,189.09 L194.73,189.11 L195.00,189.13 L195.28,189.14 L195.28,189.14 M198.09,189.30 L198.29,189.31 L198.56,189.33 L198.83,189.34 L199.11,189.35 L199.38,189.37 L199.65,189.38 L199.93,189.39 L200.20,189.40 L200.48,189.42 L200.75,189.43 L201.02,189.44 L201.30,189.45 L201.57,189.47 L201.84,189.48 L202.12,189.49 L202.39,189.50 L202.66,189.51 L202.94,189.53 L203.21,189.54 L203.48,189.55 L203.70,189.56 M206.50,189.68 L206.77,189.69 L207.04,189.70 L207.31,189.71 L207.59,189.72 L207.86,189.73 L208.14,189.74 L208.41,189.75 L208.68,189.76 L208.96,189.77 L209.23,189.78 L209.50,189.79 L209.78,189.80 L210.05,189.81 L210.32,189.82 L210.60,189.84 L210.87,189.85 L211.15,189.86 L211.42,189.87 L211.69,189.88 L211.97,189.89 L212.12,189.89 M214.92,189.99 L214.98,189.99 L215.25,190.00 L215.52,190.01 L215.80,190.02 L216.07,190.03 L216.34,190.04 L216.62,190.05 L216.89,190.05 L217.16,190.06 L217.44,190.07 L217.71,190.08 L217.98,190.09 L218.26,190.10 L218.53,190.11 L218.81,190.11 L219.08,190.12 L219.35,190.13 L219.63,190.14 L219.90,190.15 L220.17,190.16 L220.45,190.17 L220.54,190.17 M223.34,190.25 L223.46,190.25 L223.73,190.26 L224.00,190.27 L224.28,190.28 L224.55,190.28 L224.82,190.29 L225.10,190.30 L225.37,190.30 L225.65,190.31 L225.92,190.32 L226.19,190.33 L226.47,190.33 L226.74,190.34 L227.01,190.35 L227.29,190.35 L227.56,190.36 L227.83,190.37 L228.11,190.38 L228.38,190.38 L228.66,190.39 L228.93,190.40 L228.96,190.40 M231.76,190.46 L231.94,190.47 L232.21,190.47 L232.49,190.48 L232.76,190.49 L233.03,190.49 L233.31,190.50 L233.58,190.50 L233.85,190.51 L234.13,190.52 L234.40,190.52 L234.67,190.53 L234.95,190.53 L235.22,190.54 L235.49,190.55 L235.77,190.55 L236.04,190.56 L236.32,190.56 L236.59,190.57 L236.86,190.57 L237.14,190.58 L237.38,190.58 M240.19,190.64 L240.42,190.64 L240.69,190.65 L240.97,190.65 L241.24,190.66 L241.51,190.66 L241.79,190.67 L242.06,190.67 L242.33,190.68 L242.61,190.68 L242.88,190.69 L243.16,190.69 L243.43,190.70 L243.70,190.70 L243.98,190.71 L244.25,190.71 L244.52,190.71 L244.80,190.72 L245.07,190.72 L245.34,190.73 L245.62,190.73 L245.81,190.74 M248.61,190.78 L248.63,190.78 L248.90,190.78 L249.17,190.79 L249.45,190.79 L249.72,190.80 L250.00,190.80 L250.27,190.80 L250.54,190.81 L250.82,190.81 L251.09,190.82 L251.36,190.82 L251.64,190.82 L251.91,190.83 L252.18,190.83 L252.46,190.84 L252.73,190.84 L253.00,190.84 L253.28,190.85 L253.55,190.85 L253.83,190.86 L254.10,190.86 L254.23,190.86 M257.04,190.90 L257.11,190.90 L257.38,190.91 L257.66,190.91 L257.93,190.92 L258.20,190.92 L258.48,190.92 L258.75,190.93 L259.02,190.93 L259.30,190.93 L259.57,190.94 L259.84,190.94 L260.12,190.95 L260.39,190.95 L260.67,190.95 L260.94,190.96 L261.21,190.96 L261.49,190.96 L261.76,190.97 L262.03,190.97 L262.31,190.98 L262.58,190.98 L262.66,190.98 M265.46,191.02 L265.59,191.02 L265.86,191.02 L266.14,191.03 L266.41,191.03 L266.68,191.03 L266.96,191.04 L267.23,191.04 L267.51,191.04 L267.78,191.05 L268.05,191.05 L268.33,191.05 L268.60,191.06 L268.87,191.06 L269.15,191.06 L269.42,191.07 L269.69,191.07 L269.97,191.07 L270.24,191.08 L270.51,191.08 L270.79,191.08 L271.06,191.08 L271.08,191.08 M273.88,191.11 L274.07,191.12 L274.34,191.12 L274.62,191.12 L274.89,191.12 L275.17,191.13 L275.44,191.13 L275.71,191.13 L275.99,191.13 L276.26,191.14 L276.53,191.14 L276.81,191.14 L277.08,191.14 L277.35,191.15 L277.63,191.15 L277.90,191.15 L278.18,191.15 L278.45,191.15 L278.72,191.16 L279.00,191.16 L279.27,191.16 L279.50,191.16 M282.31,191.18 L282.55,191.18 L282.83,191.18 L283.10,191.18 L283.37,191.18 L283.65,191.19 L283.92,191.19 L284.19,191.19 L284.47,191.19 L284.74,191.19 L285.02,191.19 L285.29,191.19 L285.56,191.19 L285.84,191.19 L286.11,191.19 L286.38,191.20 L286.66,191.20 L286.93,191.20 L287.20,191.20 L287.48,191.20 L287.75,191.20 L287.93,191.20 M290.73,191.20 L290.76,191.20 L291.03,191.20 L291.31,191.20 L291.58,191.20 L291.85,191.20 L292.13,191.20 L292.40,191.20 L292.68,191.20 L292.95,191.19 L293.22,191.19 L293.50,191.19 L293.77,191.19 L294.04,191.19 L294.32,191.19 L294.59,191.19 L294.86,191.19 L295.14,191.18 L295.41,191.18 L295.69,191.18 L295.96,191.18 L296.23,191.18 L296.35,191.17 M299.16,191.15 L299.24,191.15 L299.52,191.14 L299.79,191.14 L300.06,191.14 L300.34,191.14 L300.61,191.13 L300.88,191.13 L301.16,191.13 L301.43,191.12 L301.70,191.12 L301.98,191.11 L302.25,191.11 L302.52,191.11 L302.80,191.10 L303.07,191.10 L303.35,191.10 L303.62,191.09 L303.89,191.09 L304.17,191.08 L304.44,191.08 L304.71,191.07 L304.78,191.07 M307.58,191.02 L307.72,191.02 L308.00,191.02 L308.27,191.01 L308.54,191.01 L308.82,191.00 L309.09,191.00 L309.36,190.99 L309.64,190.98 L309.91,190.98 L310.19,190.97 L310.46,190.97 L310.73,190.96 L311.01,190.96 L311.28,190.95 L311.55,190.95 L311.83,190.94 L312.10,190.93 L312.37,190.93 L312.65,190.92 L312.92,190.92 L313.19,190.91 L313.20,190.91 M316.01,190.84 L316.20,190.84 L316.48,190.83 L316.75,190.83 L317.03,190.82 L317.30,190.81 L317.57,190.81 L317.85,190.80 L318.12,190.79 L318.39,190.79 L318.67,190.78 L318.94,190.77 L319.21,190.77 L319.49,190.76 L319.76,190.75 L320.03,190.74 L320.31,190.74 L320.58,190.73 L320.86,190.72 L321.13,190.72 L321.40,190.71 L321.62,190.70 M324.43,190.63 L324.69,190.62 L324.96,190.61 L325.23,190.61 L325.51,190.60 L325.78,190.59 L326.05,190.58 L326.33,190.57 L326.60,190.57 L326.87,190.56 L327.15,190.55 L327.42,190.54 L327.70,190.54 L327.97,190.53 L328.24,190.52 L328.52,190.51 L328.79,190.51 L329.06,190.50 L329.34,190.49 L329.61,190.48 L329.88,190.47 L330.05,190.47 M332.85,190.38 L332.89,190.38 L333.17,190.37 L333.44,190.36 L333.71,190.35 L333.99,190.34 L334.26,190.34 L334.54,190.33 L334.81,190.32 L335.08,190.31 L335.36,190.30 L335.63,190.29 L335.90,190.27 L336.18,190.26 L336.45,190.25 L336.72,190.24 L337.00,190.23 L337.27,190.22 L337.54,190.21 L337.82,190.20 L338.09,190.19 L338.37,190.17 L338.47,190.17 M341.27,190.03 L341.37,190.03 L341.65,190.01 L341.92,190.00 L342.20,189.98 L342.47,189.97 L342.74,189.95 L343.02,189.94 L343.29,189.92 L343.56,189.91 L343.84,189.89 L344.11,189.87 L344.38,189.86 L344.66,189.84 L344.93,189.82 L345.21,189.80 L345.48,189.78 L345.75,189.77 L346.03,189.75 L346.30,189.73 L346.57,189.71 L346.85,189.69 L346.88,189.69 M349.67,189.47 L349.86,189.45 L350.13,189.43 L350.40,189.41 L350.68,189.38 L350.95,189.36 L351.22,189.33 L351.50,189.31 L351.77,189.28 L352.05,189.25 L352.32,189.23 L352.59,189.20 L352.87,189.17 L353.14,189.14 L353.41,189.10 L353.69,189.06 L353.96,189.02 L354.23,188.97 L354.51,188.92 L354.78,188.87 L355.05,188.81 L355.25,188.77 M357.97,188.10 L358.06,188.07 L358.34,187.99 L358.61,187.92 L358.88,187.84 L359.16,187.76 L359.43,187.69 L359.71,187.61 L359.98,187.53 L360.25,187.45 L360.53,187.38 L360.80,187.30 L361.18,186.97 L361.57,186.63 L361.96,186.30 L362.34,185.97 L362.70,185.64 L362.81,185.53 M364.47,183.38 L364.50,183.31 L364.61,182.98 L364.71,182.64 L364.81,182.31 L364.91,181.98 L365.00,181.64 L365.09,181.31 L365.17,180.98 L365.25,180.65 L365.33,180.31 L365.40,179.98 L365.48,179.65 L365.54,179.32 L365.61,178.98 L365.67,178.65 L365.72,178.32 L365.78,177.99 L365.79,177.92 M366.06,175.77 L366.07,175.66 L366.10,175.32 L366.13,174.99 L366.15,174.66 L366.17,174.33 L366.19,173.99 L366.21,173.66 L366.23,173.33 L366.25,173.00 L366.27,172.66 L366.29,172.33 L366.30,172.00 L366.32,171.66 L366.34,171.33 L366.35,171.00 L366.37,170.67 L366.38,170.33 L366.39,170.16 M366.51,167.36 L366.51,167.34 L366.53,167.01 L366.54,166.67 L366.55,166.34 L366.56,166.01 L366.57,165.68 L366.59,165.34 L366.60,165.01 L366.61,164.68 L366.62,164.35 L366.63,164.01 L366.64,163.68 L366.65,163.35 L366.66,163.02 L366.67,162.68 L366.68,162.35 L366.69,162.02 L366.70,161.74 M366.76,158.94 L366.77,158.69 L366.78,158.36 L366.78,158.03 L366.79,157.69 L366.80,157.36 L366.80,157.03 L366.81,156.69 L366.81,156.36 L366.82,156.03 L366.83,155.70 L366.83,155.36 L366.84,155.03 L366.84,154.70 L366.85,154.37 L366.85,154.03 L366.86,153.70 L366.86,153.37 L366.86,153.32 M366.90,150.52 L366.90,150.37 L366.90,150.04 L366.91,149.71 L366.91,149.38 L366.91,149.04 L366.92,148.71 L366.92,148.38 L366.92,148.05 L366.93,147.71 L366.93,147.38 L366.93,147.05 L366.94,146.71 L366.94,146.38 L366.94,146.05 L366.95,145.72 L366.95,145.38 L366.95,145.05 L366.95,144.90 M366.98,142.09 L366.98,142.06 L366.98,141.72 L366.99,141.39 L366.99,141.06 L366.99,140.73 L366.99,140.39 L367.00,140.06 L367.00,139.73 L367.00,139.40 L367.00,139.06 L367.01,138.73 L367.01,138.40 L367.01,138.07 L367.02,137.73 L367.02,137.40 L367.02,137.07 L367.02,136.73 L367.02,136.47 M367.04,133.67 L367.05,133.41 L367.05,133.08 L367.05,132.74 L367.05,132.41 L367.05,132.08 L367.06,131.74 L367.06,131.41 L367.06,131.08 L367.06,130.75 L367.07,130.41 L367.07,130.08 L367.07,129.75 L367.07,129.42 L367.07,129.08 L367.08,128.75 L367.08,128.42 L367.08,128.09 L367.08,128.05 M367.10,125.24 L367.10,125.09 L367.10,124.76 L367.10,124.43 L367.10,124.09 L367.10,123.76 L367.10,123.43 L367.11,123.10 L367.11,122.76 L367.11,122.43 L367.11,122.10 L367.11,121.76 L367.11,121.43 L367.12,121.10 L367.12,120.77 L367.12,120.43 L367.12,120.10 L367.12,119.77 L367.12,119.62 M367.14,116.82 L367.14,116.77 L367.14,116.44 L367.14,116.11 L367.14,115.78 L367.14,115.44 L367.14,115.11 L367.14,114.78 L367.15,114.45 L367.15,114.11 L367.15,113.78 L367.15,113.45 L367.15,113.12 L367.15,112.78 L367.15,112.45 L367.16,112.12 L367.16,111.78 L367.16,111.45 L367.16,111.20 M367.17,108.39 L367.17,108.13 L367.17,107.79 L367.17,107.46 L367.17,107.13 L367.18,106.79 L367.18,106.46 L367.18,106.13 L367.18,105.80 L367.18,105.46 L367.18,105.13 L367.18,104.80 L367.18,104.47 L367.19,104.13 L367.19,103.80 L367.19,103.47 L367.19,103.14 L367.19,102.80 L367.19,102.77 M367.20,99.97 L367.20,99.81 L367.20,99.48 L367.20,99.14 L367.21,98.81 L367.21,98.48 L367.21,98.15 L367.21,97.81 L367.21,97.48 L367.21,97.15 L367.21,96.82 L367.21,96.48 L367.22,96.15 L367.22,95.82 L367.22,95.48 L367.22,95.15 L367.22,94.82 L367.22,94.49 L367.22,94.35 M367.23,91.54 L367.23,91.49 L367.23,91.16 L367.23,90.83 L367.24,90.49 L367.24,90.16 L367.24,89.83 L367.24,89.50 L367.24,89.16 L367.24,88.83 L367.24,88.50 L367.24,88.17 L367.25,87.83 L367.25,87.50 L367.25,87.17 L367.25,86.84 L367.25,86.50 L367.25,86.17 L367.25,85.92 M367.26,83.12 L367.26,82.84 L367.26,82.51 L367.26,82.18 L367.27,81.85 L367.27,81.51 L367.27,81.18 L367.27,80.85 L367.27,80.51 L367.27,80.18 L367.27,79.85 L367.27,79.52 L367.28,79.18 L367.28,78.85 L367.28,78.52 L367.28,78.19 L367.28,77.85 L367.28,77.52 L367.28,77.50 M367.29,74.69 L367.29,74.53 L367.29,74.19 L367.29,73.86 L367.29,73.53 L367.29,73.20 L367.30,72.86 L367.30,72.53 L367.30,72.20 L367.30,71.87 L367.30,71.53 L367.30,71.20 L367.30,70.87 L367.30,70.53 L367.30,70.20 L367.31,69.87 L367.31,69.54 L367.31,69.20 L367.31,69.07 M367.32,66.27 L367.32,66.21 L367.32,65.88 L367.32,65.54 L367.32,65.21 L367.32,64.88 L367.32,64.55 L367.32,64.21 L367.32,63.88 L367.32,63.55 L367.33,63.22 L367.33,62.88 L367.33,62.55 L367.33,62.22 L367.33,61.89 L367.33,61.55 L367.33,61.22 L367.33,60.89 L367.33,60.65 M367.34,57.84 L367.34,57.56 L367.34,57.23 L367.34,56.90 L367.34,56.56 L367.34,56.23 L367.35,55.90 L367.35,55.56 L367.35,55.23 L367.35,54.90 L367.35,54.57 L367.35,54.23 L367.35,53.90 L367.35,53.57 L367.35,53.24 L367.35,52.90 L367.35,52.57 L367.35,52.24 L367.35,52.22 M367.36,49.42 L367.36,49.24 L367.36,48.91 L367.36,48.58 L367.36,48.25 L367.36,47.91 L367.36,47.58 L367.37,47.25 L367.37,46.92 L367.37,46.58 L367.37,46.25 L367.37,45.92 L367.37,45.58 L367.37,45.25 L367.37,44.92 L367.37,44.59 L367.37,44.25 L367.37,43.92 L367.37,43.80 M367.38,40.99 L367.38,40.93 L367.38,40.59 L367.38,40.26 L367.38,39.93 L367.38,39.60 L367.38,39.26 L367.38,38.93 L367.38,38.60 L367.38,38.27 L367.38,37.93 L367.38,37.60 L367.38,37.27 L367.38,36.94 L367.39,36.60 L367.39,36.27 L367.39,35.94 L367.39,35.60 L367.39,35.37 M367.39,32.57 L367.39,32.28 L367.39,31.95 L367.39,31.61 L367.39,31.28 L367.39,30.95 L367.39,30.61 L367.39,30.28 L367.39,29.95 L367.39,29.62 L367.39,29.28 L367.39,28.95 L367.39,28.62 L367.40,28.29 L367.40,27.95 L367.40,27.62 L367.40,27.29 L367.40,26.96 L367.40,26.95 M367.40,24.14 L367.40,23.96 L367.40,23.63 L367.40,23.30 L367.40,22.96 L367.40,22.63 L367.40,22.30 L367.40,21.97 L367.40,21.63 L367.40,21.30" stroke="#996633" stroke-width="2.0"/>
<path d="M56.30,14.45 H59.25 M61.55,14.45 H64.50 M66.81,14.45 H69.76 M72.06,14.45 H75.02 M77.32,14.45 H80.27 M82.57,14.45 H85.52 M87.83,14.45 H90.78 M93.08,14.45 H96.03 M98.34,14.45 H101.29 M103.59,14.45 H106.55 M108.85,14.45 H111.80 M114.10,14.45 H117.05 M119.36,14.45 H122.31 M124.61,14.45 H127.56 M129.87,14.45 H132.82 M135.12,14.45 H138.07 M140.38,14.45 H143.33 M145.63,14.45 H148.58 M150.89,14.45 H153.84 M156.14,14.45 H159.09 M161.40,14.45 H164.35 M166.66,14.45 H169.60 M171.91,14.45 H174.86 M177.16,14.45 H180.11 M182.42,14.45 H185.37 M187.68,14.45 H190.62 M192.93,14.45 H195.88 M198.19,14.45 H201.13 M203.44,14.45 H206.39 M208.69,14.45 H211.64 M213.95,14.45 H216.90 M219.20,14.45 H222.15 M224.46,14.45 H227.41 M229.71,14.45 H232.66 M234.97,14.45 H237.92 M240.22,14.45 H243.17 M245.48,14.45 H248.43 M250.74,14.45 H253.69 M255.99,14.45 H258.94 M261.25,14.45 H264.19 M266.50,14.45 H269.45 M271.75,14.45 H274.70 M277.01,14.45 H279.96 M282.26,14.45 H285.21 M287.52,14.45 H290.47 M292.77,14.45 H295.72 M298.03,14.45 H300.98 M303.28,14.45 H306.23 M308.54,14.45 H311.49 M313.80,14.45 H316.75 M319.05,14.45 H322.00 M324.31,14.45 H327.25 M329.56,14.45 H332.51 M334.81,14.45 H337.76 M340.07,14.45 H343.02 M345.32,14.45 H348.27 M350.58,14.45 H353.53 M355.83,14.45 H358.78 M361.09,14.45 H364.04 M366.35,14.45 H366.40" stroke="#000" stroke-width="2.0"/>
<line x1="142.2" y1="13.6" x2="142.2" y2="194.5" stroke="#000" stroke-width="1.3"/>
</g>
<g stroke="#000" fill="none" stroke-linecap="square">
<line x1="50.5" y1="4.45" x2="373.8" y2="4.45" stroke-width="0.85"/>
<line x1="50.5" y1="4.45" x2="50.5" y2="204.4" stroke-width="0.85"/>
<line x1="50.5" y1="204.4" x2="373.8" y2="204.4" stroke-width="1.0"/>
<line x1="373.85" y1="4.45" x2="373.85" y2="204.4" stroke-width="1.0"/>
</g>
<g stroke="#000" stroke-width="0.6" fill="none">
<line x1="51.66" y1="4.45" x2="51.66" y2="6.45"/>
<line x1="62.94" y1="4.45" x2="62.94" y2="6.45"/>
<line x1="74.22" y1="4.45" x2="74.22" y2="6.45"/>
<line x1="85.50" y1="4.45" x2="85.50" y2="7.73"/>
<line x1="96.78" y1="4.45" x2="96.78" y2="6.45"/>
<line x1="108.06" y1="4.45" x2="108.06" y2="6.45"/>
<line x1="119.34" y1="4.45" x2="119.34" y2="6.45"/>
<line x1="130.62" y1="4.45" x2="130.62" y2="6.45"/>
<line x1="141.90" y1="4.45" x2="141.90" y2="7.73"/>
<line x1="153.18" y1="4.45" x2="153.18" y2="6.45"/>
<line x1="164.46" y1="4.45" x2="164.46" y2="6.45"/>
<line x1="175.74" y1="4.45" x2="175.74" y2="6.45"/>
<line x1="187.02" y1="4.45" x2="187.02" y2="6.45"/>
<line x1="198.30" y1="4.45" x2="198.30" y2="7.73"/>
<line x1="209.58" y1="4.45" x2="209.58" y2="6.45"/>
<line x1="220.86" y1="4.45" x2="220.86" y2="6.45"/>
<line x1="232.14" y1="4.45" x2="232.14" y2="6.45"/>
<line x1="243.42" y1="4.45" x2="243.42" y2="6.45"/>
<line x1="254.70" y1="4.45" x2="254.70" y2="7.73"/>
<line x1="265.98" y1="4.45" x2="265.98" y2="6.45"/>
<line x1="277.26" y1="4.45" x2="277.26" y2="6.45"/>
<line x1="288.54" y1="4.45" x2="288.54" y2="6.45"/>
<line x1="299.82" y1="4.45" x2="299.82" y2="6.45"/>
<line x1="311.10" y1="4.45" x2="311.10" y2="7.73"/>
<line x1="322.38" y1="4.45" x2="322.38" y2="6.45"/>
<line x1="333.66" y1="4.45" x2="333.66" y2="6.45"/>
<line x1="344.94" y1="4.45" x2="344.94" y2="6.45"/>
<line x1="356.22" y1="4.45" x2="356.22" y2="6.45"/>
<line x1="367.50" y1="4.45" x2="367.50" y2="7.73"/>
<line x1="373.8" y1="202.69" x2="371.8" y2="202.69"/>
<line x1="373.8" y1="194.10" x2="370.52000000000004" y2="194.10"/>
<line x1="373.8" y1="185.51" x2="371.8" y2="185.51"/>
<line x1="373.8" y1="176.92" x2="371.8" y2="176.92"/>
<line x1="373.8" y1="168.34" x2="371.8" y2="168.34"/>
<line x1="373.8" y1="159.75" x2="370.52000000000004" y2="159.75"/>
<line x1="373.8" y1="151.16" x2="371.8" y2="151.16"/>
<line x1="373.8" y1="142.57" x2="371.8" y2="142.57"/>
<line x1="373.8" y1="133.99" x2="371.8" y2="133.99"/>
<line x1="373.8" y1="125.40" x2="370.52000000000004" y2="125.40"/>
<line x1="373.8" y1="116.81" x2="371.8" y2="116.81"/>
<line x1="373.8" y1="108.22" x2="371.8" y2="108.22"/>
<line x1="373.8" y1="99.64" x2="371.8" y2="99.64"/>
<line x1="373.8" y1="91.05" x2="370.52000000000004" y2="91.05"/>
<line x1="373.8" y1="82.46" x2="371.8" y2="82.46"/>
<line x1="373.8" y1="73.87" x2="371.8" y2="73.87"/>
<line x1="373.8" y1="65.29" x2="371.8" y2="65.29"/>
<line x1="373.8" y1="56.70" x2="370.52000000000004" y2="56.70"/>
<line x1="373.8" y1="48.11" x2="371.8" y2="48.11"/>
<line x1="373.8" y1="39.52" x2="371.8" y2="39.52"/>
<line x1="373.8" y1="30.94" x2="371.8" y2="30.94"/>
<line x1="373.8" y1="22.35" x2="370.52000000000004" y2="22.35"/>
<line x1="373.8" y1="13.76" x2="371.8" y2="13.76"/>
<line x1="373.8" y1="5.17" x2="371.8" y2="5.17"/>
</g>
<g stroke="#000" stroke-width="0.95" fill="none">
<line x1="51.66" y1="204.4" x2="51.66" y2="201.9"/>
<line x1="62.94" y1="204.4" x2="62.94" y2="201.9"/>
<line x1="74.22" y1="204.4" x2="74.22" y2="201.9"/>
<line x1="85.50" y1="204.4" x2="85.50" y2="200.3"/>
<line x1="96.78" y1="204.4" x2="96.78" y2="201.9"/>
<line x1="108.06" y1="204.4" x2="108.06" y2="201.9"/>
<line x1="119.34" y1="204.4" x2="119.34" y2="201.9"/>
<line x1="130.62" y1="204.4" x2="130.62" y2="201.9"/>
<line x1="141.90" y1="204.4" x2="141.90" y2="200.3"/>
<line x1="153.18" y1="204.4" x2="153.18" y2="201.9"/>
<line x1="164.46" y1="204.4" x2="164.46" y2="201.9"/>
<line x1="175.74" y1="204.4" x2="175.74" y2="201.9"/>
<line x1="187.02" y1="204.4" x2="187.02" y2="201.9"/>
<line x1="198.30" y1="204.4" x2="198.30" y2="200.3"/>
<line x1="209.58" y1="204.4" x2="209.58" y2="201.9"/>
<line x1="220.86" y1="204.4" x2="220.86" y2="201.9"/>
<line x1="232.14" y1="204.4" x2="232.14" y2="201.9"/>
<line x1="243.42" y1="204.4" x2="243.42" y2="201.9"/>
<line x1="254.70" y1="204.4" x2="254.70" y2="200.3"/>
<line x1="265.98" y1="204.4" x2="265.98" y2="201.9"/>
<line x1="277.26" y1="204.4" x2="277.26" y2="201.9"/>
<line x1="288.54" y1="204.4" x2="288.54" y2="201.9"/>
<line x1="299.82" y1="204.4" x2="299.82" y2="201.9"/>
<line x1="311.10" y1="204.4" x2="311.10" y2="200.3"/>
<line x1="322.38" y1="204.4" x2="322.38" y2="201.9"/>
<line x1="333.66" y1="204.4" x2="333.66" y2="201.9"/>
<line x1="344.94" y1="204.4" x2="344.94" y2="201.9"/>
<line x1="356.22" y1="204.4" x2="356.22" y2="201.9"/>
<line x1="367.50" y1="204.4" x2="367.50" y2="200.3"/>
<line x1="50.5" y1="202.69" x2="53.0" y2="202.69"/>
<line x1="50.5" y1="194.10" x2="54.6" y2="194.10"/>
<line x1="50.5" y1="185.51" x2="53.0" y2="185.51"/>
<line x1="50.5" y1="176.92" x2="53.0" y2="176.92"/>
<line x1="50.5" y1="168.34" x2="53.0" y2="168.34"/>
<line x1="50.5" y1="159.75" x2="54.6" y2="159.75"/>
<line x1="50.5" y1="151.16" x2="53.0" y2="151.16"/>
<line x1="50.5" y1="142.57" x2="53.0" y2="142.57"/>
<line x1="50.5" y1="133.99" x2="53.0" y2="133.99"/>
<line x1="50.5" y1="125.40" x2="54.6" y2="125.40"/>
<line x1="50.5" y1="116.81" x2="53.0" y2="116.81"/>
<line x1="50.5" y1="108.22" x2="53.0" y2="108.22"/>
<line x1="50.5" y1="99.64" x2="53.0" y2="99.64"/>
<line x1="50.5" y1="91.05" x2="54.6" y2="91.05"/>
<line x1="50.5" y1="82.46" x2="53.0" y2="82.46"/>
<line x1="50.5" y1="73.87" x2="53.0" y2="73.87"/>
<line x1="50.5" y1="65.29" x2="53.0" y2="65.29"/>
<line x1="50.5" y1="56.70" x2="54.6" y2="56.70"/>
<line x1="50.5" y1="48.11" x2="53.0" y2="48.11"/>
<line x1="50.5" y1="39.52" x2="53.0" y2="39.52"/>
<line x1="50.5" y1="30.94" x2="53.0" y2="30.94"/>
<line x1="50.5" y1="22.35" x2="54.6" y2="22.35"/>
<line x1="50.5" y1="13.76" x2="53.0" y2="13.76"/>
<line x1="50.5" y1="5.17" x2="53.0" y2="5.17"/>
</g>
<text x="86.05" y="223.5" text-anchor="middle" style="font-size:16.5px;letter-spacing:1.1px">−50</text>
<text x="142.45" y="223.5" text-anchor="middle" style="font-size:16.5px;letter-spacing:1.1px">−40</text>
<text x="198.85" y="223.5" text-anchor="middle" style="font-size:16.5px;letter-spacing:1.1px">−30</text>
<text x="255.25" y="223.5" text-anchor="middle" style="font-size:16.5px;letter-spacing:1.1px">−20</text>
<text x="311.65" y="223.5" text-anchor="middle" style="font-size:16.5px;letter-spacing:1.1px">−10</text>
<text x="367.50" y="223.5" text-anchor="middle" style="font-size:16.5px;letter-spacing:0px">0</text>
<text x="47.6" y="199.80" text-anchor="end" style="font-size:16.5px;letter-spacing:0.15px">0.0</text>
<text x="47.6" y="165.45" text-anchor="end" style="font-size:16.5px;letter-spacing:0.15px">0.2</text>
<text x="47.6" y="131.10" text-anchor="end" style="font-size:16.5px;letter-spacing:0.15px">0.4</text>
<text x="47.6" y="96.75" text-anchor="end" style="font-size:16.5px;letter-spacing:0.15px">0.6</text>
<text x="47.6" y="62.40" text-anchor="end" style="font-size:16.5px;letter-spacing:0.15px">0.8</text>
<text x="47.6" y="28.05" text-anchor="end" style="font-size:16.5px;letter-spacing:0.15px">1.0</text>
<text x="212.4" y="249.2" text-anchor="middle" style="font-size:16.5px;letter-spacing:0.28px">e−folding time</text>
<g transform="translate(15.8,140) rotate(-90)">
<text x="0" y="0" style="font-style:italic">T</text>
<text x="8.2" y="2.9" style="font-size:11.5px;letter-spacing:0.1px">RS</text>
<text x="23" y="0">,</text>
<text x="33.2" y="0" style="font-style:italic">T</text>
<text x="42.0" y="2.9" style="font-size:12px;letter-spacing:0.4px">SS</text>
<text x="57.5" y="0">,</text>
<text x="65.5" y="0">ε</text>
</g>
</svg>
</body></html>
